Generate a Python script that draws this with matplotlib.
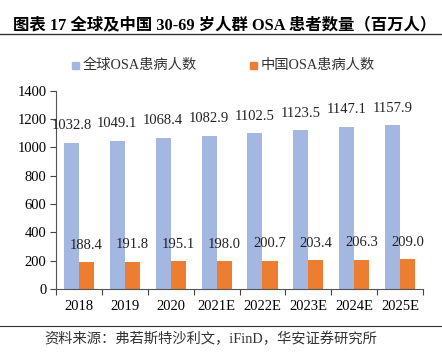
import matplotlib
matplotlib.use("Agg")
import matplotlib.pyplot as plt
import numpy as np
from matplotlib.lines import Line2D
from matplotlib.patches import Rectangle

categories = ["2018", "2019", "2020", "2021E", "2022E", "2023E", "2024E", "2025E"]
global_vals = [1032.8, 1049.1, 1068.4, 1082.9, 1102.5, 1123.5, 1147.1, 1157.9]
china_vals = [188.4, 191.8, 195.1, 198.0, 200.7, 203.4, 206.3, 209.0]
series_names = ["全球OSA患病人数", "中国OSA患病人数"]
yticks = [0, 200, 400, 600, 800, 1000, 1200, 1400]

BLUE = "#A3B7E0"
ORANGE = "#ED7D31"
SERIF = ["Liberation Serif", "Noto Sans CJK SC"]

plt.rcParams['font.family'] = SERIF

fig = plt.figure(figsize=(4.42, 3.55), dpi=100)
ax = fig.add_axes([0.127, 0.186, 0.83, 0.558])

x = np.arange(len(categories))
w = 0.33
ax.bar(x - w / 2, global_vals, width=w, color=BLUE)
ax.bar(x + w / 2, china_vals, width=w, color=ORANGE)

for xi, v in zip(x, global_vals):
    ax.annotate(f"{v:.1f}", (xi - w / 2, v), xytext=(0, 7.5), textcoords="offset points",
                ha="center", va="bottom", fontsize=10.5, color="#222222")
for xi, v in zip(x, china_vals):
    ax.annotate(f"{v:.1f}", (xi + w / 2, v), xytext=(0, 7.5), textcoords="offset points",
                ha="center", va="bottom", fontsize=10.5, color="#222222")

ax.set_xlim(-0.5, len(categories) - 0.5)
ax.set_ylim(0, 1400)
ax.set_yticks(yticks)
ax.set_yticklabels([str(t) for t in yticks], fontsize=10.5)
ax.set_xticks(x)
ax.set_xticklabels(categories, fontsize=10.5)
ax.set_xticks(np.arange(len(categories) + 1) - 0.5, minor=True)
ax.tick_params(axis="x", which="major", length=0, pad=8)
ax.tick_params(axis="x", which="minor", length=4, width=0.8, color="#444444", direction="out")
ax.tick_params(axis="y", length=4, width=0.8, color="#444444", direction="out", pad=3)
for s in ["top", "right"]:
    ax.spines[s].set_visible(False)
for s in ["left", "bottom"]:
    ax.spines[s].set_color("#555555")
    ax.spines[s].set_linewidth(0.8)

# title
fig.text(0.03, 0.93, "图表 17 全球及中国 30-69 岁人群 OSA 患者数量（百万人）",
         fontsize=11.8, fontweight="bold", family=SERIF, ha="left", va="center")
fig.add_artist(Line2D([0.0, 1.0], [0.904, 0.904], color="#333333", linewidth=1.0,
                      transform=fig.transFigure))

# legend
for xm, col, name in [(0.171, BLUE, series_names[0]), (0.573, ORANGE, series_names[1])]:
    fig.add_artist(Rectangle((xm - 0.008, 0.805), 0.016, 0.02, color=col,
                             transform=fig.transFigure))
    fig.text(xm + 0.016, 0.815, name, fontsize=10.3, family=SERIF, ha="left", va="center",
             color="#333333")

# source
fig.add_artist(Line2D([0.0, 1.0], [0.082, 0.082], color="#333333", linewidth=0.8,
                      transform=fig.transFigure))
fig.text(0.1, 0.045, "资料来源：弗若斯特沙利文，iFinD，华安证券研究所", fontsize=10.3,
         family=SERIF, ha="left", va="center", color="#333333")

fig.savefig("out.png", dpi=100)
